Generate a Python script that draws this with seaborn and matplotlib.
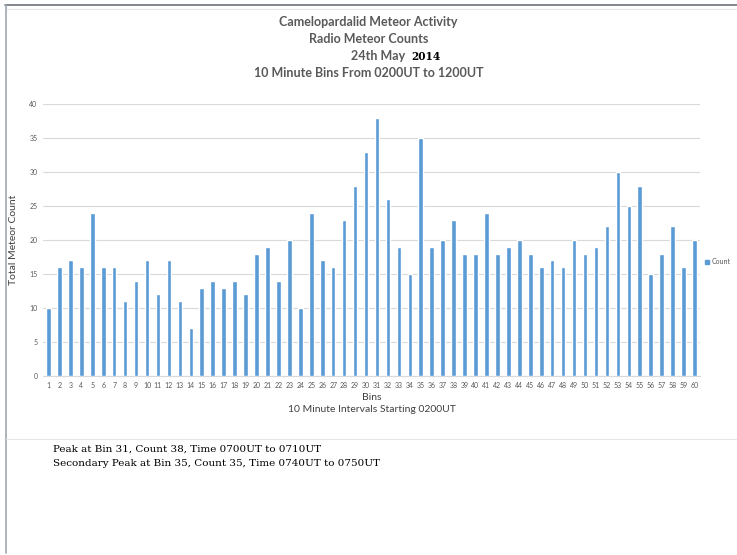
import pandas as pd
import seaborn as sns
import matplotlib.pyplot as plt
from matplotlib.lines import Line2D

# counts per 10 minute bin, 0200UT to 1200UT
bins = list(range(1, 61))
counts = [10, 16, 17, 16, 24, 16, 16, 11, 14, 17,
          12, 17, 11, 7, 13, 14, 13, 14, 12, 18,
          19, 14, 20, 10, 24, 17, 16, 23, 28, 33,
          38, 26, 19, 15, 35, 19, 20, 23, 18, 18,
          24, 18, 19, 20, 18, 16, 17, 16, 20, 18,
          19, 22, 30, 25, 28, 15, 18, 22, 16, 20]
y_ticks = [0, 5, 10, 15, 20, 25, 30, 35, 40]
notes = ["Peak at Bin 31, Count 38, Time 0700UT to 0710UT",
         "Secondary Peak at Bin 35, Count 35, Time 0740UT to 0750UT"]

df = pd.DataFrame({"Bins": [str(b) for b in bins], "Count": counts})

sns.set_style("white")
plt.rcParams['font.family'] = ['Lato', 'DejaVu Sans']
grey = "#595959"

fig = plt.figure(figsize=(7.37, 5.55), dpi=100)
W, H = 737, 555
ax = fig.add_axes([43 / W, 1 - 376 / H, 657 / W, 272 / H])

sns.barplot(data=df, x="Bins", y="Count", color="#5B9BD5", width=0.42,
            saturation=1, ax=ax, zorder=3)
ax.set_xlim(-0.5, 59.5)
ax.set_ylim(0, 40)
ax.set_yticks(y_ticks)
ax.yaxis.grid(True, color="#D9D9D9", linewidth=0.8, zorder=0)
ax.set_axisbelow(True)
for s in ["top", "right", "left"]:
    ax.spines[s].set_visible(False)
ax.spines["bottom"].set_color("#D9D9D9")
ax.tick_params(axis="both", length=0, labelsize=5, labelcolor=grey, pad=4)
ax.set_ylabel("Total Meteor Count", fontsize=7.5, color="#404040", labelpad=8)
ax.set_xlabel("Bins\n10 Minute Intervals Starting 0200UT", fontsize=7.5,
              color="#404040", labelpad=3, linespacing=1.5)

handle = Line2D([], [], marker="s", linestyle="", color="#5B9BD5", markersize=3.5)
ax.legend([handle], ["Count"], loc="center left", bbox_to_anchor=(1.008, 0.42),
          frameon=False, fontsize=5, handlelength=0.6, handletextpad=0.3,
          borderpad=0, borderaxespad=0, labelcolor=grey)

# titles
title_kw = dict(ha="center", va="center", fontsize=9, color=grey, fontweight="bold")
fig.text(0.5, 1 - 22 / H, "Camelopardalid Meteor Activity", **title_kw)
fig.text(0.5, 1 - 39 / H, "Radio Meteor Counts", **title_kw)
fig.text(405 / W, 1 - 56 / H, "24th May", ha="right", va="center",
         fontsize=9, color=grey, fontweight="bold")
fig.text(411 / W, 1 - 56 / H, "2014", ha="left", va="center",
         fontsize=7.6, color="black", fontweight="bold", family="DejaVu Serif")
fig.text(0.5, 1 - 73 / H, "10 Minute Bins From 0200UT to 1200UT", **title_kw)

# notes under the chart
for i, note in enumerate(notes):
    fig.text(53 / W, 1 - (449 + 14 * i) / H, note, ha="left", va="center",
             fontsize=7.45, color="black", family="DejaVu Serif")

# page borders
fig.add_artist(Line2D([5 / W, 1], [1 - 5 / H] * 2, color="#6E7378", linewidth=1.2))
fig.add_artist(Line2D([6 / W, 1], [1 - 9 / H] * 2, color="#E6E6E6", linewidth=0.8))
fig.add_artist(Line2D([5.5 / W] * 2, [1 - 5 / H, 1 - 553 / H], color="#A0A8B4", linewidth=1.2))
fig.add_artist(Line2D([6 / W, 1], [1 - 439 / H] * 2, color="#E6E6E6", linewidth=0.8))

fig.savefig("out.png", dpi=100)
